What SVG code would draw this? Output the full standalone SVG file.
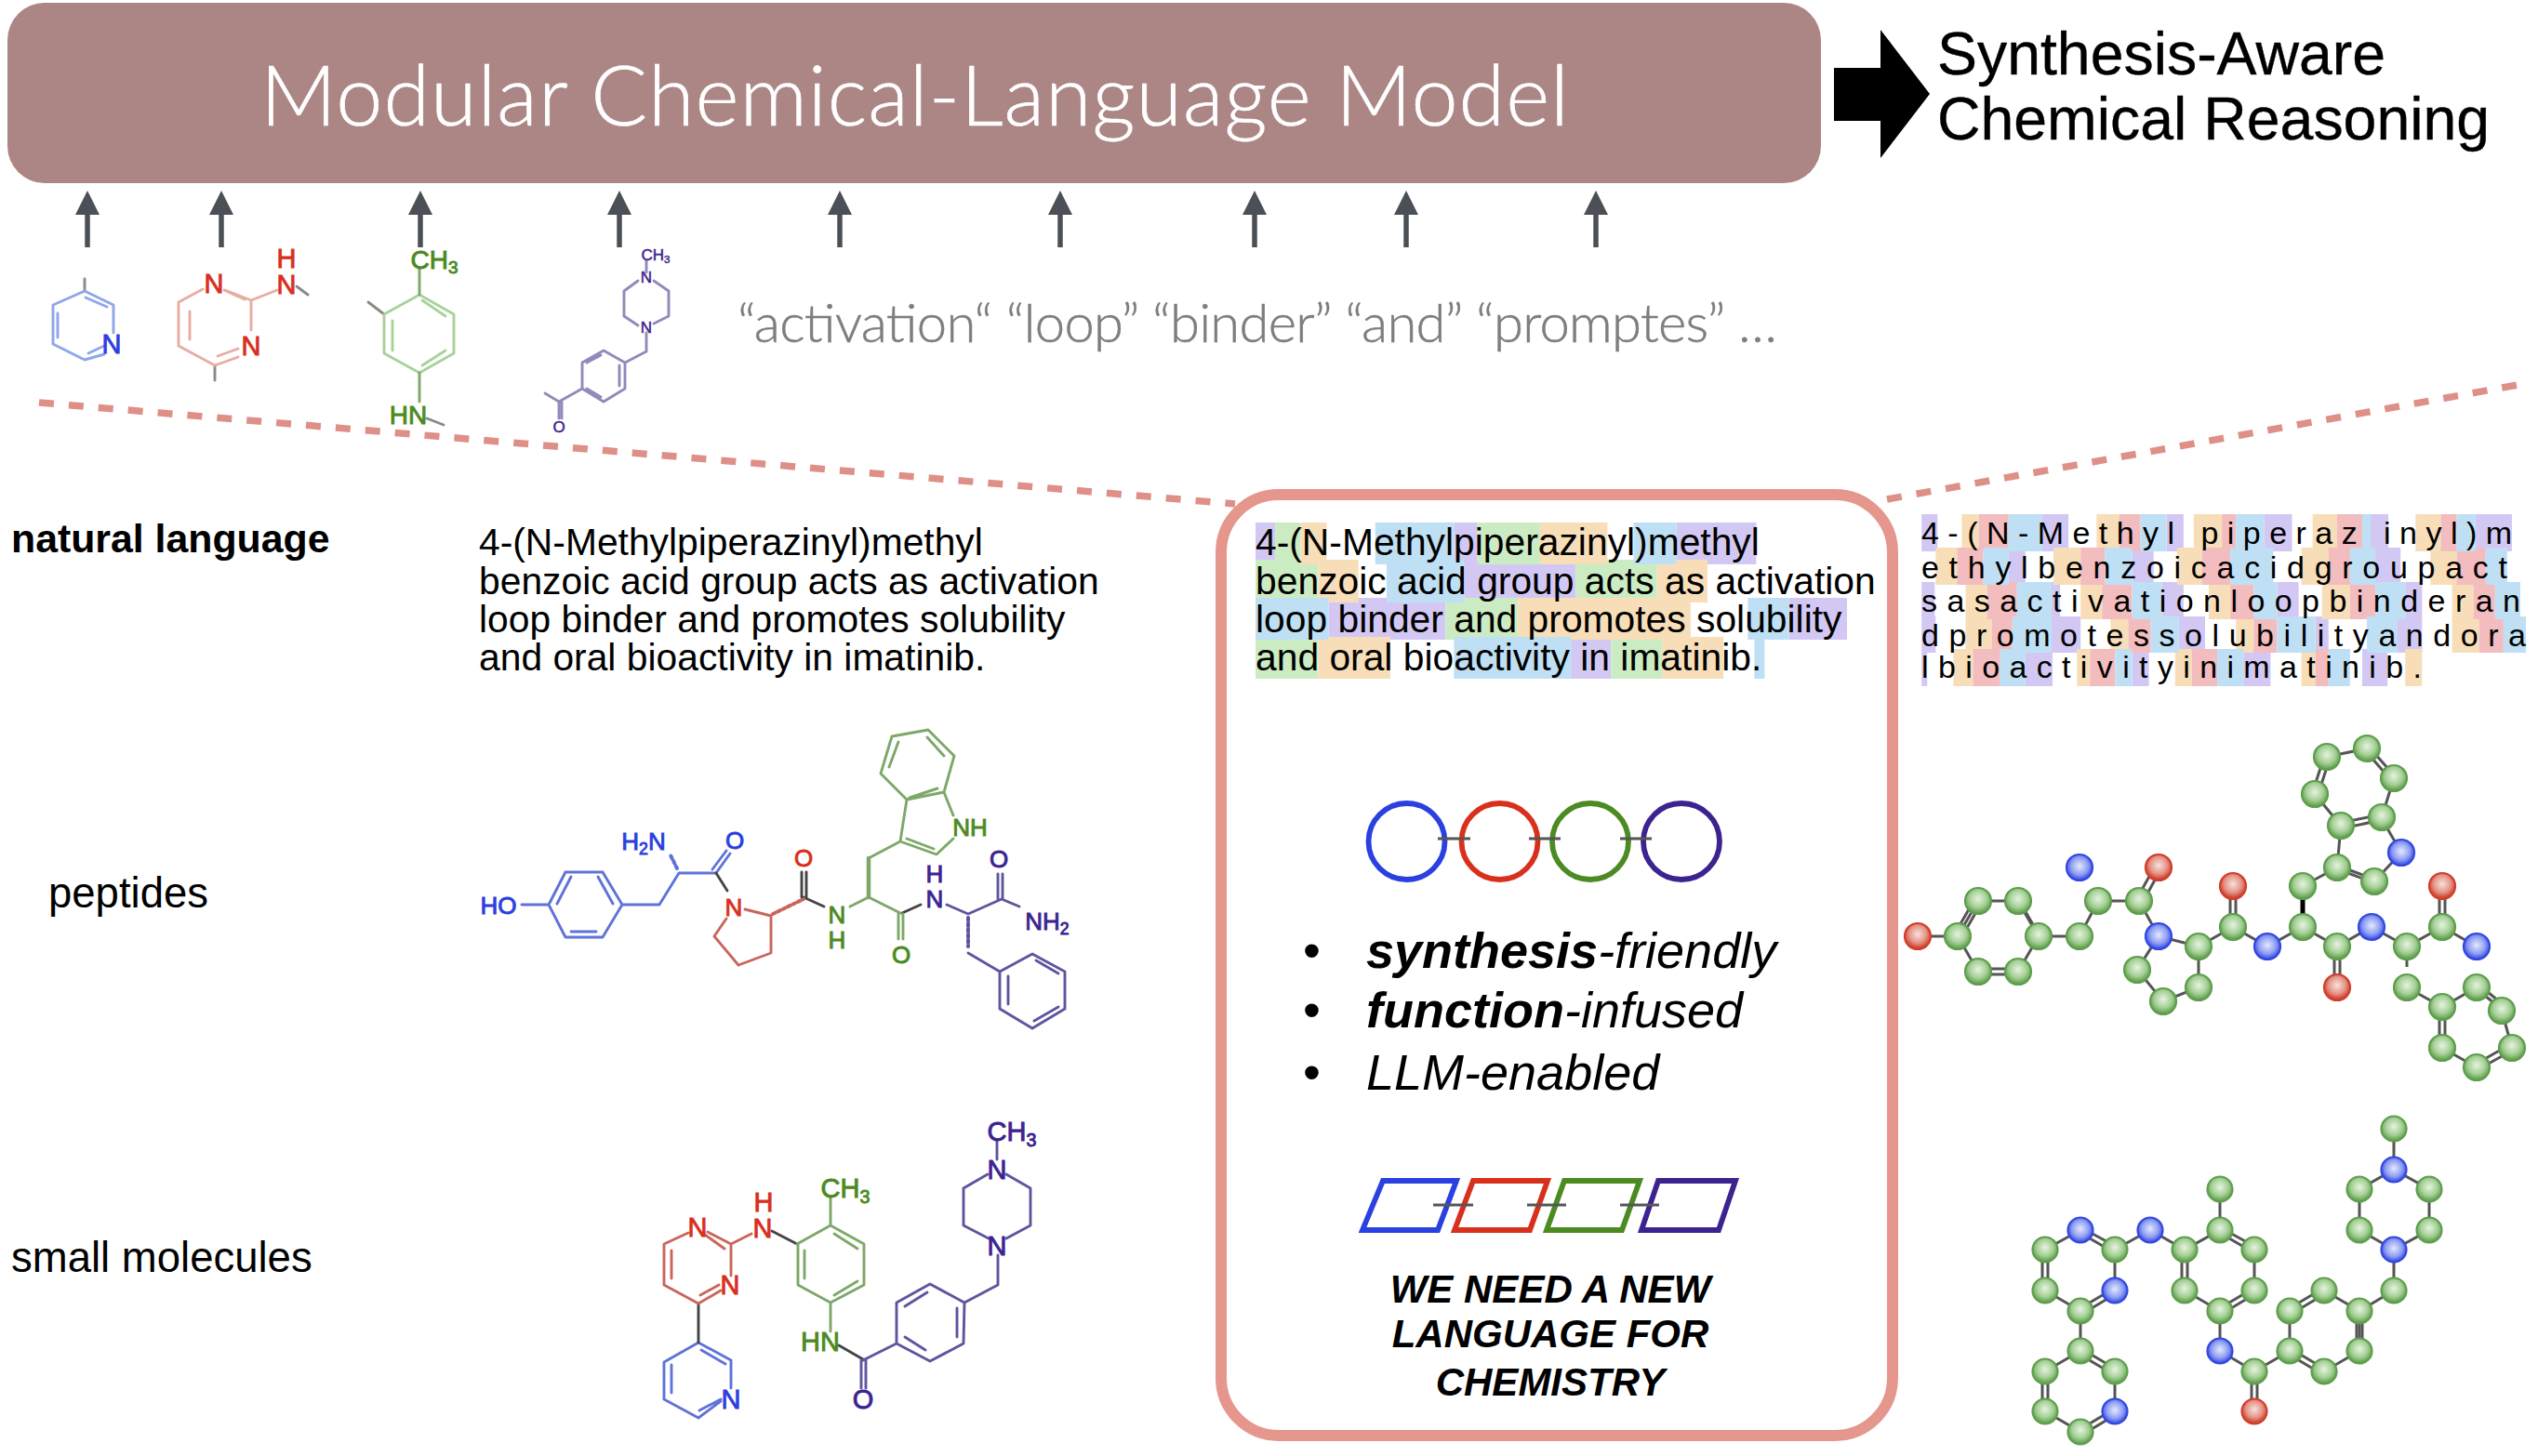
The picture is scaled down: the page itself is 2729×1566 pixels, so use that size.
<svg xmlns="http://www.w3.org/2000/svg" width="2729" height="1566" viewBox="0 0 2729 1566">
<defs>
<marker id="ah" markerUnits="userSpaceOnUse" markerWidth="26" markerHeight="26" refX="2" refY="13" orient="auto"><path d="M0 0L26 13L0 26Z" fill="#4a5056"/></marker>
<radialGradient id="gg" cx="50%" cy="42%" r="55%"><stop offset="0" stop-color="#e6f3e0"/><stop offset="0.6" stop-color="#a5d096"/><stop offset="1" stop-color="#5f9e4c"/></radialGradient>
<radialGradient id="gb" cx="50%" cy="45%" r="55%"><stop offset="0" stop-color="#e4e8ff"/><stop offset="0.6" stop-color="#8f9ff2"/><stop offset="1" stop-color="#2f44e2"/></radialGradient>
<radialGradient id="gr" cx="50%" cy="42%" r="55%"><stop offset="0" stop-color="#f5e2df"/><stop offset="0.6" stop-color="#e59486"/><stop offset="1" stop-color="#cf3826"/></radialGradient>
</defs>
<style>
text{font-family:"Liberation Sans",Arial,sans-serif;fill:#000}
.thin{font-family:Lato,"Open Sans",sans-serif;font-weight:300}
.b{fill:none;stroke-width:2.9;stroke-linecap:round;stroke-linejoin:round}
.bb{stroke:#5f73d8}.br{stroke:#c9665c}.bg{stroke:#7da868}.bp{stroke:#5d569e}.bd{stroke:#444}
.pb{stroke:#8fa6ea}.pr{stroke:#e8ada2}.pg{stroke:#a8d29a}.pp{stroke:#8f8bbb}.pd{stroke:#8a8a8a}
.m{font-size:26px;stroke-width:.9;text-anchor:middle}
.m2{font-size:29px;stroke-width:.9;text-anchor:middle}
.ms{font-size:17px;stroke-width:.5;text-anchor:middle}
.tb{fill:#2a40e0;stroke:#2a40e0}.tr{fill:#d8301c;stroke:#d8301c}.tg{fill:#4c8a22;stroke:#4c8a22}.tp{fill:#3d2390;stroke:#3d2390}
.s{font-size:.68em}
.hg{fill:#cbecc2}.ho{fill:#f8deb8}.hb{fill:#bfe0f4}.hp{fill:#d2c8f3}.hk{fill:#f3bcbe}
.para{font-size:40.8px}
.tok{font-size:34px}
.lab{font-size:45.5px}
.li{font-size:54px;font-style:italic}
.li tspan{font-weight:700}
.bul{font-size:54px}
.cap{font-size:42px;font-weight:700;font-style:italic;text-anchor:middle}
.dash{fill:none;stroke:#de9088;stroke-width:7.5;stroke-dasharray:16 16}
.stick{fill:none;stroke:#555;stroke-width:3}
.a{stroke-width:2.2}
.g{fill:url(#gg);stroke:#5f9e4e}.n{fill:url(#gb);stroke:#3347e0}.o{fill:url(#gr);stroke:#cf3f2c}
.ring{fill:none;stroke-width:5.8}
.link{fill:none;stroke:#555;stroke-width:3}
</style>
<rect width="2729" height="1566" fill="#fff"/>

<g id="banner">
<rect x="8" y="3" width="1950" height="194" rx="40" fill="#ac8585"/>
<text class="thin" x="280" y="135" font-size="90" style="fill:#fff;stroke:#fff;stroke-width:.7" textLength="1407">Modular Chemical-Language Model</text>
</g>
<g id="output">
<path d="M1972 73H2022V32L2075 101L2022 170V130H1972Z" fill="#000"/>
<text x="2083" y="80" font-size="64.4" style="stroke:#000;stroke-width:.4">Synthesis-Aware</text>
<text x="2083" y="150" font-size="64.4" style="stroke:#000;stroke-width:.4">Chemical Reasoning</text>
</g>

<g id="connectors">
<g stroke="#4a5056" stroke-width="5.5" fill="none">
<path d="M94 266V229" marker-end="url(#ah)"/>
<path d="M238 266V229" marker-end="url(#ah)"/>
<path d="M452 266V229" marker-end="url(#ah)"/>
<path d="M666 266V229" marker-end="url(#ah)"/>
<path d="M903 266V229" marker-end="url(#ah)"/>
<path d="M1140 266V229" marker-end="url(#ah)"/>
<path d="M1349 266V229" marker-end="url(#ah)"/>
<path d="M1512 266V229" marker-end="url(#ah)"/>
<path d="M1716 266V229" marker-end="url(#ah)"/>
</g>
<path class="dash" d="M42 433L1328 542"/>
<path class="dash" d="M2029 537L2707 414"/>
</g>

<g id="frag-blue">
<path class="b pd" d="M91 300V313"/>
<path class="b pb" d="M91 313L122 328V358M112 381L91 387L57 370V328L91 313M92 320L115 330M62 337V363M95 380L112 372"/>
<text class="m2 tb" x="120" y="380">N</text>
</g>
<g id="frag-red">
<path class="b pd" d="M231 393V409M319 308L331 317"/>
<path class="b pr" d="M231 393L192 372V325L218 311M242 312L270 323V355M256 384L231 393M204 335V365M241 312L263 322M234 383L256 375M270 323L298 312"/>
<text class="m2 tr" x="230" y="315">N</text><text class="m2 tr" x="270" y="382">N</text>
<text class="m2 tr" x="308" y="316">N</text><text class="m2 tr" x="308" y="288">H</text>
</g>
<g id="frag-green">
<path class="b pd" d="M396 325L413 338M459 450L477 457"/>
<path class="b pg" d="M451 317L488 338V380L451 401L413 380V338ZM454 323L479 340M422 345V377M454 393L479 377"/>
<path class="b bg" d="M451 288V317M451 401V432"/>
<text class="m2 tg" x="467" y="289" style="font-size:28px">CH<tspan class="s" dy="5">3</tspan></text>
<text class="m2 tg" x="439" y="456" style="font-size:28px">HN</text>
</g>
<g id="frag-purple">
<path class="b pp" d="M586 423L601 432M695 280V293M686 302L671 313V340L686 350M703 302L719 313V340L703 348M695 358V378L672 390L649 377L626 390V418L649 432L672 418V390M631 390L646 382M666 393V415M631 418L646 427M626 418L601 432V450M604 432V450"/>
<text class="ms tp" x="705" y="280">CH<tspan class="s" dy="3">3</tspan></text>
<text class="ms tp" x="695" y="304">N</text><text class="ms tp" x="695" y="358">N</text>
<text class="ms tp" x="601" y="465">O</text>
</g>
<g id="tokens">
<text class="thin" x="793" y="368" font-size="58" style="fill:#7e7e7e;stroke:#7e7e7e;stroke-width:.5" textLength="1118">“activation“ “loop” “binder” “and” “promptes” …</text>
</g>

<g id="label-natural"><text x="12" y="594" font-size="42.8" font-weight="700">natural language</text></g>
<g id="label-peptides"><text class="lab" x="52" y="976">peptides</text></g>
<g id="label-small"><text class="lab" x="12" y="1368">small molecules</text></g>

<g id="natural-text">
<text class="para" x="515" y="597">4-(N-Methylpiperazinyl)methyl</text>
<text class="para" x="515" y="639">benzoic acid group acts as activation</text>
<text class="para" x="515" y="680">loop binder and promotes solubility</text>
<text class="para" x="515" y="721">and oral bioactivity in imatinib.</text>
</g>

<g id="peptide-structure">
<path class="b bb" d="M561 973H590L608 938H648L669 973L648 1008H608L590 973M599 972L614 943M643 943L659 972M614 1002H641M669 973H709L730 939H770M770 939L785 918M766 935L781 915"/>
<path class="b bb" stroke-dasharray="3 3" style="stroke-width:4" d="M728 934L721 920"/>
<path class="b bd" d="M770 939L782 958M886 975L864 965M970 982L990 973"/>
<path class="b br" d="M801 978L829 985V1025L794 1038L768 1007L781 988"/>
<path class="b br" stroke-dasharray="3 3" style="stroke-width:4" d="M831 983L864 967"/>
<path class="b bd" d="M862 965V938M867 965V938"/>
<path class="b bg" d="M914 975L934 965L968 982M966 983V1010M971 983V1010M934 923L968 905L975 860L1015 852L1025 877M1025 902L1007 919L968 905M1004 913L975 902M975 860L947 832L959 792L998 785L1026 813L1015 852M956 825L966 798M997 793L1015 813M978 858L1008 848"/>
<path class="b bg" style="stroke-width:4.5" d="M934 965V923"/>
<path class="b bp" d="M1018 973L1041 983L1077 967L1096 975M1073 967V940M1078 967V940M1041 1025L1075 1045L1110 1026L1145 1045V1085L1110 1106L1075 1085V1045M1084 1050V1080M1114 1033L1138 1047M1112 1098L1138 1083"/>
<path class="b bp" stroke-dasharray="3 3" style="stroke-width:4" d="M1041 987V1018"/>
<text class="m tb" x="536" y="983">HO</text>
<text class="m tb" x="692" y="914">H<tspan class="s" dy="5">2</tspan><tspan dy="-5">N</tspan></text>
<text class="m tb" x="790" y="913">O</text>
<text class="m tr" x="789" y="985">N</text>
<text class="m tr" x="864" y="932">O</text>
<text class="m tg" x="900" y="993">N</text><text class="m tg" x="900" y="1020">H</text>
<text class="m tg" x="1043" y="899">NH</text>
<text class="m tg" x="969" y="1036">O</text>
<text class="m tp" x="1005" y="949">H</text><text class="m tp" x="1005" y="976">N</text>
<text class="m tp" x="1074" y="933">O</text>
<text class="m tp" x="1126" y="1000">NH<tspan class="s" dy="5">2</tspan></text>
</g>

<g id="imatinib-structure">
<path class="b bb" d="M751 1444L786 1463V1493M775 1507L751 1525L714 1505V1465L751 1444M754 1452L780 1467M722 1468V1498M752 1517L775 1505"/>
<path class="b bd" d="M751 1444V1402M830 1324L857 1338M902 1447L928 1462"/>
<path class="b br" d="M751 1402L775 1388M753 1393L773 1382M786 1372V1338L761 1325M758 1328L779 1343M740 1326L714 1338V1382L751 1402M722 1345V1375M786 1338L808 1327"/>
<path class="b bg" d="M857 1338L893 1318L929 1338V1382L893 1401L858 1382V1338M865 1345V1375M897 1327L922 1343M897 1393L922 1378M893 1318V1288M893 1401V1432"/>
<path class="b bp" d="M926 1463V1493M931 1463V1493M928 1463L964 1445L1000 1464L1036 1445L1037 1401L1000 1381L964 1401V1445M973 1438L995 1452M1029 1407V1438M973 1405L997 1390M1037 1401L1073 1382V1350M1063 1332L1036 1318V1278L1062 1263M1082 1263L1108 1278V1318L1082 1332M1072 1247V1227"/>
<text class="m2 tb" x="786" y="1515">N</text>
<text class="m2 tr" x="750" y="1330">N</text><text class="m2 tr" x="785" y="1392">N</text>
<text class="m2 tr" x="820" y="1331">N</text><text class="m2 tr" x="821" y="1303">H</text>
<text class="m2 tg" x="909" y="1288">CH<tspan class="s" dy="6">3</tspan></text>
<text class="m2 tg" x="882" y="1453">HN</text>
<text class="m2 tp" x="928" y="1515">O</text>
<text class="m2 tp" x="1072" y="1350">N</text><text class="m2 tp" x="1072" y="1268">N</text>
<text class="m2 tp" x="1088" y="1227">CH<tspan class="s" dy="6">3</tspan></text>
</g>

<g id="model-box">
<rect x="1313" y="532" width="722" height="1012" rx="62" fill="#fff" stroke="#e5968d" stroke-width="12"/>
</g>
<g id="center-highlights" transform="translate(-8.5 0) scale(1.0063 1)">
<path class="hp" d="M1350 562H1371V607H1350ZM1562 562H1587V607H1562ZM1800 562H1885V607H1800ZM1573 602H1692V648H1573ZM1428 643H1553V688H1428ZM1920 643H1982V688H1920ZM1687 685H1730V730H1687Z"/>
<path class="hg" d="M1371 562H1398V607H1371ZM1587 562H1654V607H1587ZM1350 602H1417V648H1350ZM1692 602H1779V648H1692ZM1553 643H1630V688H1553ZM1350 685H1417V730H1350ZM1730 685H1785V730H1730Z"/>
<path class="ho" d="M1398 562H1426V607H1398ZM1654 562H1726V607H1654ZM1417 602H1460V648H1417ZM1779 602H1833V648H1779ZM1630 643H1815V688H1630ZM1417 685H1494V730H1417ZM1785 685H1850V730H1785Z"/>
<path class="hb" d="M1478 562H1562V607H1478ZM1754 562H1800V607H1754ZM1490 602H1573V648H1490ZM1350 643H1428V688H1350ZM1876 643H1920V688H1876ZM1562 685H1687V730H1562ZM1883 685H1894V730H1883Z"/>
</g>
<g id="center-text">
<text class="para" x="1350" y="597">4-(N-Methylpiperazinyl)methyl</text>
<text class="para" x="1350" y="639">benzoic acid group acts as activation</text>
<text class="para" x="1350" y="680">loop binder and promotes solubility</text>
<text class="para" x="1350" y="721">and oral bioactivity in imatinib.</text>
</g>
<g id="monomer-chain">
<circle class="ring" cx="1512.5" cy="905" r="41" stroke="#2a40e0"/>
<circle class="ring" cx="1612.5" cy="905" r="41" stroke="#d8301c"/>
<circle class="ring" cx="1710" cy="905" r="41" stroke="#4c8a22"/>
<circle class="ring" cx="1808" cy="905" r="41" stroke="#3d2390"/>
<path class="link" d="M1546 902H1581M1644 902H1678M1742 902H1776"/>
</g>
<g id="bullets">
<text class="bul" x="1401" y="1041">•</text><text class="li" x="1469" y="1041"><tspan>synthesis</tspan>-friendly</text>
<text class="bul" x="1401" y="1105">•</text><text class="li" x="1469" y="1105"><tspan>function</tspan>-infused</text>
<text class="bul" x="1401" y="1172">•</text><text class="li" x="1469" y="1172">LLM-enabled</text>
</g>
<g id="block-chain">
<path class="ring" stroke="#2a40e0" d="M1487 1270H1566L1546 1323H1465Z"/>
<path class="ring" stroke="#d8301c" d="M1584 1270H1664L1645 1323H1564Z"/>
<path class="ring" stroke="#4c8a22" d="M1682 1270H1763L1744 1323H1663Z"/>
<path class="ring" stroke="#3d2390" d="M1783 1270H1866L1848 1323H1765Z"/>
<path class="link" d="M1541 1296H1584M1642 1296H1684M1742 1296H1784"/>
</g>
<g id="caption">
<text class="cap" x="1667" y="1401">WE NEED A NEW</text>
<text class="cap" x="1667" y="1449">LANGUAGE FOR</text>
<text class="cap" x="1667" y="1501">CHEMISTRY</text>
</g>

<g id="token-highlights" transform="translate(-14 0) scale(1.0059 1)">
<path class="hp" d="M2068 553H2085V593H2068ZM2197 553H2225V593H2197ZM2330 553H2348V593H2330ZM2434 553H2464V593H2434ZM2548 553H2567V593H2548ZM2660 553H2699V593H2660ZM2161 589H2179V629H2161ZM2293 589H2316V629H2293ZM2553 589H2580V629H2553ZM2068 626H2082V666H2068ZM2195 626H2216V666H2195ZM2325 626H2348V666H2325ZM2448 626H2471V666H2448ZM2585 626H2603V666H2585ZM2068 663H2083V702H2068ZM2207 663H2238V702H2207ZM2343 663H2371V702H2343ZM2489 663H2503V702H2489ZM2576 663H2603V702H2576ZM2068 698H2074V738H2068ZM2179 698H2208V738H2179ZM2293 698H2311V738H2293ZM2412 698H2441V738H2412ZM2539 698H2566V738H2539Z"/>
<path class="ho" d="M2111 553H2129V593H2111ZM2255 553H2279V593H2255ZM2359 553H2389V593H2359ZM2486 553H2512V593H2486ZM2596 553H2623V593H2596ZM2083 589H2106V629H2083ZM2209 589H2238V629H2209ZM2341 589H2368V629H2341ZM2474 589H2503V629H2474ZM2612 589H2640V629H2612ZM2115 626H2138V666H2115ZM2238 626H2261V666H2238ZM2375 626H2398V666H2375ZM2496 626H2526V666H2496ZM2635 626H2658V666H2635ZM2115 663H2143V702H2115ZM2270 663H2289V702H2270ZM2404 663H2423V702H2404ZM2635 663H2664V702H2635ZM2102 698H2123V738H2102ZM2234 698H2248V738H2234ZM2339 698H2357V738H2339ZM2474 698H2489V738H2474ZM2585 698H2603V738H2585Z"/>
<path class="hk" d="M2129 553H2161V593H2129ZM2279 553H2302V593H2279ZM2389 553H2404V593H2389ZM2512 553H2539V593H2512ZM2623 553H2640V593H2623ZM2106 589H2134V629H2106ZM2238 589H2264V629H2238ZM2368 589H2398V629H2368ZM2503 589H2526V629H2503ZM2640 589H2671V629H2640ZM2138 626H2170V666H2138ZM2261 626H2293V666H2261ZM2398 626H2423V666H2398ZM2526 626H2553V666H2526ZM2658 626H2681V666H2658ZM2143 663H2165V702H2143ZM2289 663H2313V702H2289ZM2423 663H2448V702H2423ZM2664 663H2690V702H2664ZM2123 698H2152V738H2123ZM2248 698H2275V738H2248ZM2357 698H2384V738H2357ZM2489 698H2503V738H2489Z"/>
<path class="hb" d="M2161 553H2197V593H2161ZM2302 553H2330V593H2302ZM2404 553H2434V593H2404ZM2539 553H2548V593H2539ZM2640 553H2660V593H2640ZM2134 589H2161V629H2134ZM2264 589H2293V629H2264ZM2398 589H2444V629H2398ZM2526 589H2553V629H2526ZM2671 589H2694V629H2671ZM2170 626H2207V666H2170ZM2293 626H2325V666H2293ZM2423 626H2448V666H2423ZM2553 626H2585V666H2553ZM2681 626H2708V666H2681ZM2165 663H2207V702H2165ZM2313 663H2343V702H2313ZM2448 663H2489V702H2448ZM2544 663H2576V702H2544ZM2690 663H2714V702H2690ZM2152 698H2179V738H2152ZM2275 698H2293V738H2275ZM2384 698H2412V738H2384ZM2503 698H2526V738H2503Z"/>
</g>
<g id="token-text">
<text class="tok" x="2066" y="585" textLength="635" lengthAdjust="spacing">4-(N-Methyl piperaz inyl)m</text>
<text class="tok" x="2066" y="622" textLength="630" lengthAdjust="spacing">ethylbenzoicacidgroupact</text>
<text class="tok" x="2066" y="658" textLength="644" lengthAdjust="spacing">sasactivationloopbinderan</text>
<text class="tok" x="2066" y="695" textLength="650" lengthAdjust="spacing">dpromotessolubilityandora</text>
<text class="tok" x="2066" y="729" textLength="538" lengthAdjust="spacing">lbioactivityinimatinib.</text>
</g>

<g id="peptide-balls">
<path class="stick" d="M2062 1007H2105L2127 969M2170 969H2127M2192 1007L2170 1045M2127 1045L2105 1007M2192 1007H2236L2256 969H2300L2321 1007L2364 1018V1062L2326 1077L2298 1043L2321 1007M2364 1018L2401 997L2438 1018L2476 997L2513 1018L2550 997L2588 1018L2626 997L2663 1018M2476 953L2513 933M2560 879L2582 917L2553 948M2517 888L2513 933M2517 888L2489 854M2502 814L2545 805M2574 837L2561 879M2588 1018V1040M2588 1062L2626 1083L2663 1062M2690 1087L2701 1127M2663 1148L2626 1127"/>
<path class="stick" d="M2124 966L2102 1004M2130 972L2108 1010M2168 966L2190 1004M2173 972L2195 1010M2127 1042H2170M2127 1048H2170M2298 966L2318 930M2304 970L2324 934M2398 997V953M2404 997V953M2510 1018V1062M2516 1018V1062M2623 997V953M2629 997V953M2511 930L2551 945M2514 935L2554 950M2517 885L2560 876M2518 891L2561 882M2486 854L2499 814M2492 856L2505 816M2543 807L2571 839M2547 803L2575 835M2623 1083V1127M2629 1083V1127M2660 1061L2688 1084M2664 1058L2692 1081M2701 1130L2663 1151M2698 1124L2661 1145"/>
<path d="M2476 997V953" stroke="#000" stroke-width="5"/>
<g class="a">
<circle class="o" cx="2062" cy="1007" r="14"/>
<circle class="g" cx="2105" cy="1007" r="14"/><circle class="g" cx="2127" cy="969" r="14"/><circle class="g" cx="2170" cy="969" r="14"/><circle class="g" cx="2192" cy="1007" r="14"/><circle class="g" cx="2170" cy="1045" r="14"/><circle class="g" cx="2127" cy="1045" r="14"/>
<circle class="g" cx="2236" cy="1007" r="14"/><circle class="g" cx="2256" cy="969" r="14"/><circle class="g" cx="2300" cy="969" r="14"/>
<circle class="n" cx="2236" cy="933" r="14"/><circle class="o" cx="2321" cy="933" r="14"/>
<circle class="n" cx="2321" cy="1007" r="14"/><circle class="g" cx="2364" cy="1018" r="14"/><circle class="g" cx="2364" cy="1062" r="14"/><circle class="g" cx="2326" cy="1077" r="14"/><circle class="g" cx="2298" cy="1043" r="14"/>
<circle class="g" cx="2401" cy="997" r="14"/><circle class="o" cx="2401" cy="953" r="14"/><circle class="n" cx="2438" cy="1018" r="14"/>
<circle class="g" cx="2476" cy="997" r="14"/><circle class="g" cx="2476" cy="953" r="14"/><circle class="g" cx="2513" cy="933" r="14"/><circle class="g" cx="2553" cy="948" r="14"/><circle class="n" cx="2582" cy="917" r="14"/><circle class="g" cx="2561" cy="879" r="14"/><circle class="g" cx="2517" cy="888" r="14"/><circle class="g" cx="2489" cy="854" r="14"/><circle class="g" cx="2502" cy="814" r="14"/><circle class="g" cx="2545" cy="805" r="14"/><circle class="g" cx="2574" cy="837" r="14"/>
<circle class="g" cx="2513" cy="1018" r="14"/><circle class="o" cx="2513" cy="1062" r="14"/><circle class="n" cx="2550" cy="997" r="14"/><circle class="g" cx="2588" cy="1018" r="14"/><circle class="g" cx="2626" cy="997" r="14"/><circle class="o" cx="2626" cy="953" r="14"/><circle class="n" cx="2663" cy="1018" r="14"/>
<circle class="g" cx="2588" cy="1062" r="14"/><circle class="g" cx="2626" cy="1083" r="14"/><circle class="g" cx="2663" cy="1062" r="14"/><circle class="g" cx="2690" cy="1087" r="14"/><circle class="g" cx="2701" cy="1127" r="14"/><circle class="g" cx="2663" cy="1148" r="14"/><circle class="g" cx="2626" cy="1127" r="14"/>
</g>
</g>

<g id="imatinib-balls">
<path class="stick" d="M2199 1344L2237 1323M2274 1344V1388M2199 1388L2237 1410M2274 1344L2312 1323L2349 1344L2387 1323V1279M2424 1344V1388M2387 1410L2349 1388M2387 1410V1453L2424 1475L2462 1453M2499 1475L2537 1453V1410M2499 1388L2537 1410L2574 1388V1344L2537 1323V1279L2574 1258L2612 1279V1323L2574 1344M2574 1258V1214M2462 1410V1453M2237 1410V1453L2199 1475M2274 1475V1518M2237 1540L2199 1518"/>
<path class="stick" d="M2237 1320L2276 1341M2235 1325L2273 1347M2196 1344V1388M2202 1344V1388M2237 1407L2274 1385M2239 1413L2276 1391M2346 1344V1388M2352 1344V1388M2387 1320L2425 1341M2385 1325L2423 1347M2387 1407L2424 1385M2389 1413L2426 1391M2421 1475V1518M2427 1475V1518M2462 1407L2499 1385M2464 1413L2501 1391M2534 1410V1453M2540 1410V1453M2462 1450L2499 1472M2460 1456L2497 1478M2237 1450L2274 1472M2235 1456L2272 1478M2196 1475V1518M2202 1475V1518M2237 1537L2274 1515M2239 1543L2276 1521"/>
<g class="a"><circle class="g" cx="2199" cy="1344" r="13.5"/><circle class="n" cx="2237" cy="1323" r="13.5"/><circle class="g" cx="2274" cy="1344" r="13.5"/><circle class="n" cx="2274" cy="1388" r="13.5"/><circle class="g" cx="2237" cy="1410" r="13.5"/><circle class="g" cx="2199" cy="1388" r="13.5"/>
<circle class="n" cx="2312" cy="1323" r="13.5"/><circle class="g" cx="2349" cy="1344" r="13.5"/><circle class="g" cx="2387" cy="1323" r="13.5"/><circle class="g" cx="2387" cy="1279" r="13.5"/><circle class="g" cx="2424" cy="1344" r="13.5"/><circle class="g" cx="2424" cy="1388" r="13.5"/><circle class="g" cx="2387" cy="1410" r="13.5"/><circle class="g" cx="2349" cy="1388" r="13.5"/>
<circle class="n" cx="2387" cy="1453" r="13.5"/><circle class="g" cx="2424" cy="1475" r="13.5"/><circle class="o" cx="2424" cy="1518" r="13.5"/><circle class="g" cx="2462" cy="1453" r="13.5"/><circle class="g" cx="2499" cy="1475" r="13.5"/><circle class="g" cx="2537" cy="1453" r="13.5"/><circle class="g" cx="2537" cy="1410" r="13.5"/><circle class="g" cx="2499" cy="1388" r="13.5"/><circle class="g" cx="2462" cy="1410" r="13.5"/>
<circle class="g" cx="2574" cy="1388" r="13.5"/><circle class="n" cx="2574" cy="1344" r="13.5"/><circle class="g" cx="2537" cy="1323" r="13.5"/><circle class="g" cx="2537" cy="1279" r="13.5"/><circle class="n" cx="2574" cy="1258" r="13.5"/><circle class="g" cx="2612" cy="1279" r="13.5"/><circle class="g" cx="2612" cy="1323" r="13.5"/><circle class="g" cx="2574" cy="1214" r="13.5"/>
<circle class="g" cx="2237" cy="1453" r="13.5"/><circle class="g" cx="2274" cy="1475" r="13.5"/><circle class="n" cx="2274" cy="1518" r="13.5"/><circle class="g" cx="2237" cy="1540" r="13.5"/><circle class="g" cx="2199" cy="1518" r="13.5"/><circle class="g" cx="2199" cy="1475" r="13.5"/></g>
</g>
</svg>
